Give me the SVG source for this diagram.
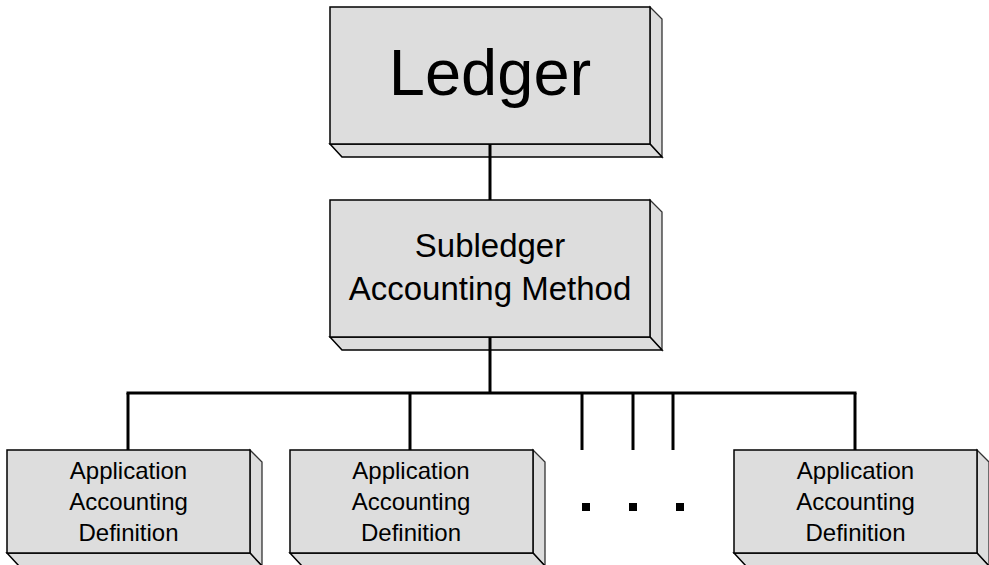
<svg xmlns="http://www.w3.org/2000/svg" width="989" height="565" viewBox="0 0 989 565">
<style>
.front{fill:#dddddd;stroke:#000;stroke-width:1.5}
.side{fill:#dddddd;stroke:#333;stroke-width:1.3;stroke-linejoin:miter}
.bottom{fill:#dddddd;stroke:#000;stroke-width:1.5}
text{font-family:"Liberation Sans",Arial,sans-serif;fill:#000;text-anchor:middle}
.conn line{stroke:#000;stroke-width:3}
.dot{fill:#000}
</style>
<rect width="989" height="565" fill="#fff"/>
<g id="ledger">
<polygon class="side" points="650,7 662,19 662,157 650,144"/>
<polygon class="bottom" points="330,144 650,144 662,157 342,157"/>
<rect class="front" x="330" y="7" width="320" height="137"/>
<text x="490" y="95" font-size="65">Ledger</text>
</g>
<g id="subledger">
<polygon class="side" points="650,200 662,212 662,350 650,337"/>
<polygon class="bottom" points="330,337 650,337 662,350 342,350"/>
<rect class="front" x="330" y="200" width="320" height="137"/>
<text x="490" y="257" font-size="33">Subledger</text>
<text x="490" y="300" font-size="33">Accounting Method</text>
</g>
<g id="aad1">
<polygon class="side" points="250,450 262,462 262,566 250,553"/>
<polygon class="bottom" points="7,553 250,553 262,566 19,566"/>
<rect class="front" x="7" y="450" width="243" height="103"/>
<text x="128.5" y="479" font-size="24">Application</text>
<text x="128.5" y="510" font-size="24">Accounting</text>
<text x="128.5" y="541" font-size="24">Definition</text>
</g>
<g id="aad2">
<polygon class="side" points="533,450 545,462 545,566 533,553"/>
<polygon class="bottom" points="290,553 533,553 545,566 302,566"/>
<rect class="front" x="290" y="450" width="243" height="103"/>
<text x="411" y="479" font-size="24">Application</text>
<text x="411" y="510" font-size="24">Accounting</text>
<text x="411" y="541" font-size="24">Definition</text>
</g>
<g id="aad3">
<polygon class="side" points="977,450 989,462 989,566 977,553"/>
<polygon class="bottom" points="734,553 977,553 989,566 746,566"/>
<rect class="front" x="734" y="450" width="243" height="103"/>
<text x="855.5" y="479" font-size="24">Application</text>
<text x="855.5" y="510" font-size="24">Accounting</text>
<text x="855.5" y="541" font-size="24">Definition</text>
</g>
<g id="ellipsis">
<rect class="dot" x="582" y="503" width="8" height="8"/>
<rect class="dot" x="629" y="503" width="8" height="8"/>
<rect class="dot" x="676" y="503" width="8" height="8"/>
</g>
<g class="conn">
<line x1="490" y1="144" x2="490" y2="200"/>
<line x1="490" y1="337" x2="490" y2="393"/>
<line x1="126.5" y1="393" x2="856.5" y2="393"/>
<line x1="128" y1="393" x2="128" y2="450"/>
<line x1="410" y1="393" x2="410" y2="450"/>
<line x1="855" y1="393" x2="855" y2="450"/>
<line x1="582" y1="393" x2="582" y2="450"/>
<line x1="633" y1="393" x2="633" y2="450"/>
<line x1="673" y1="393" x2="673" y2="450"/>
</g>
</svg>
